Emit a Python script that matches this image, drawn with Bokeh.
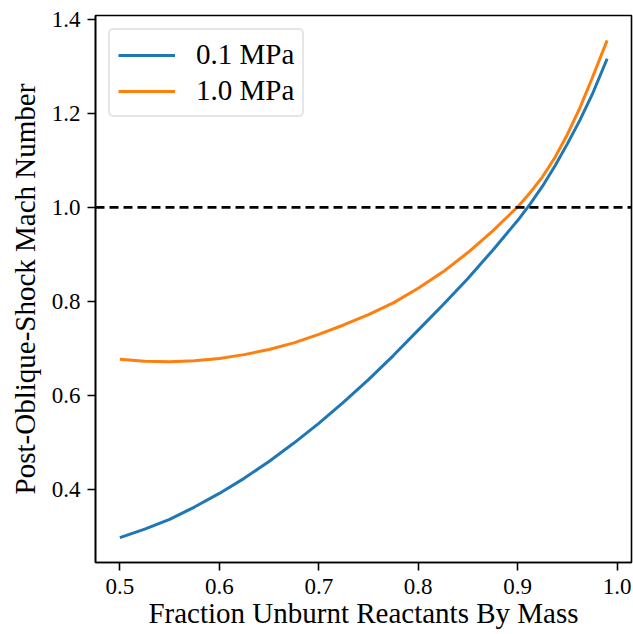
from bokeh.plotting import figure
from bokeh.models import Span, Range1d, FixedTicker, Legend, LegendItem
from bokeh.embed import file_html
from bokeh.resources import INLINE

# ---- data ----
fraction = [0.500, 0.525, 0.550, 0.575, 0.600, 0.625, 0.650, 0.675, 0.700,
            0.725, 0.750, 0.775, 0.800, 0.825, 0.850, 0.875, 0.900, 0.9125,
            0.925, 0.9375, 0.950, 0.9625, 0.975, 0.990]
mach_01MPa = [0.298, 0.316, 0.337, 0.363, 0.392, 0.424, 0.460, 0.499, 0.541,
              0.586, 0.634, 0.685, 0.739, 0.793, 0.849, 0.909, 0.972, 1.007,
              1.045, 1.088, 1.135, 1.185, 1.240, 1.316]
mach_10MPa = [0.677, 0.673, 0.672, 0.674, 0.679, 0.687, 0.698, 0.712, 0.730,
              0.750, 0.772, 0.797, 0.828, 0.863, 0.904, 0.950, 1.001, 1.031,
              1.065, 1.106, 1.155, 1.211, 1.275, 1.355]
series_labels = ["0.1 MPa", "1.0 MPa"]
x_ticks = [0.5, 0.6, 0.7, 0.8, 0.9, 1.0]
y_ticks = [0.4, 0.6, 0.8, 1.0, 1.2, 1.4]
sonic_mach = 1.0

BLUE = "#1f77b4"
ORANGE = "#ff7f0e"
FONT = "Liberation Serif"

xmin, xmax = min(fraction), max(fraction)
ally = mach_01MPa + mach_10MPa
ymin, ymax = min(ally), max(ally)
xpad = 0.05 * (xmax - xmin)
ypad = 0.05 * (ymax - ymin)

p = figure(width=633, height=634, output_backend="svg", toolbar_location=None,
           x_range=Range1d(xmin - xpad, xmax + xpad),
           y_range=Range1d(ymin - ypad, ymax + ypad),
           min_border_left=95, min_border_right=2, min_border_top=15,
           min_border_bottom=72)

p.grid.visible = False
p.background_fill_color = "white"
p.border_fill_color = "white"
p.outline_line_color = "black"
p.outline_line_width = 1.6
p.outline_line_alpha = 1.0

r1 = p.line(fraction, mach_01MPa, line_color=BLUE, line_width=3)
r2 = p.line(fraction, mach_10MPa, line_color=ORANGE, line_width=3)

span = Span(location=sonic_mach, dimension="width", line_color="black",
            line_width=2.6, line_dash="9 5")
p.add_layout(span)

for ax in (p.xaxis[0], p.yaxis[0]):
    ax.axis_line_color = "black"
    ax.axis_line_width = 1.6
    ax.major_tick_line_color = "black"
    ax.major_tick_line_width = 1.6
    ax.major_tick_out = 8
    ax.major_tick_in = 0
    ax.minor_tick_out = 0
    ax.minor_tick_in = 0
    ax.major_label_text_font = FONT
    ax.major_label_text_font_size = "23px"
    ax.major_label_text_color = "black"
    ax.axis_label_text_font = FONT
    ax.axis_label_text_font_size = "29px"
    ax.axis_label_text_font_style = "normal"
    ax.axis_label_text_color = "black"

p.xaxis[0].ticker = FixedTicker(ticks=x_ticks)
p.yaxis[0].ticker = FixedTicker(ticks=y_ticks)
p.xaxis[0].major_label_overrides = {t: f"{t:.1f}" for t in x_ticks}
p.yaxis[0].major_label_overrides = {t: f"{t:.1f}" for t in y_ticks}
p.xaxis[0].major_label_standoff = 8
p.yaxis[0].major_label_standoff = 7
p.xaxis[0].axis_label = "Fraction Unburnt Reactants By Mass"
p.yaxis[0].axis_label = "Post-Oblique-Shock Mach Number"
p.xaxis[0].axis_label_standoff = 0
p.yaxis[0].axis_label_standoff = 8

legend = Legend(items=[LegendItem(label=series_labels[0], renderers=[r1]),
                       LegendItem(label=series_labels[1], renderers=[r2])],
                location="top_left", margin=13, padding=8, spacing=3,
                glyph_width=57, glyph_height=20, label_height=20,
                label_standoff=21,
                label_text_font=FONT, label_text_font_size="29px",
                label_text_color="black",
                border_line_color="#cccccc", border_line_width=2,
                background_fill_color="white", background_fill_alpha=0.8)
try:
    legend.border_radius = 5
except Exception:
    pass
p.add_layout(legend)

open("out.html", "w").write(file_html(p, INLINE))
